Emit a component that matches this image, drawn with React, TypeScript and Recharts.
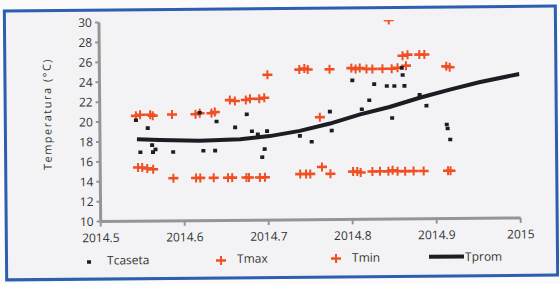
import React from 'react';
import { ComposedChart, Scatter, Line, XAxis, YAxis } from 'recharts';

const xTicks = [2014.5, 2014.6, 2014.7, 2014.8, 2014.9, 2015];
const yTicks = [10, 12, 14, 16, 18, 20, 22, 24, 26, 28, 30];

const tcaseta = [
  { x: 2014.543, y: 20.15 }, { x: 2014.557, y: 19.35 }, { x: 2014.548, y: 16.93 },
  { x: 2014.562, y: 17.64 }, { x: 2014.563, y: 16.93 }, { x: 2014.566, y: 17.2 },
  { x: 2014.587, y: 16.93 }, { x: 2014.619, y: 20.85 }, { x: 2014.623, y: 17.03 },
  { x: 2014.637, y: 17.03 }, { x: 2014.639, y: 19.95 }, { x: 2014.661, y: 19.35 },
  { x: 2014.675, y: 20.65 }, { x: 2014.681, y: 18.94 }, { x: 2014.688, y: 18.64 },
  { x: 2014.693, y: 16.33 }, { x: 2014.696, y: 17.14 }, { x: 2014.699, y: 18.94 },
  { x: 2014.738, y: 18.44 }, { x: 2014.752, y: 17.84 }, { x: 2014.774, y: 20.85 },
  { x: 2014.776, y: 18.94 }, { x: 2014.801, y: 23.97 }, { x: 2014.812, y: 21.06 },
  { x: 2014.821, y: 21.96 }, { x: 2014.827, y: 23.57 }, { x: 2014.842, y: 23.37 },
  { x: 2014.851, y: 23.37 }, { x: 2014.863, y: 23.37 }, { x: 2014.861, y: 24.47 },
  { x: 2014.860, y: 25.18 }, { x: 2014.848, y: 20.15 }, { x: 2014.881, y: 22.46 },
  { x: 2014.889, y: 21.36 }, { x: 2014.913, y: 19.45 }, { x: 2014.914, y: 19.05 },
  { x: 2014.917, y: 17.94 },
];

const tmax = [
  { x: 2014.543, y: 20.6 }, { x: 2014.548, y: 20.7 }, { x: 2014.560, y: 20.7 },
  { x: 2014.563, y: 20.6 }, { x: 2014.586, y: 20.7 }, { x: 2014.614, y: 20.7 },
  { x: 2014.619, y: 20.8 }, { x: 2014.633, y: 20.8 }, { x: 2014.637, y: 20.9 },
  { x: 2014.655, y: 22.1 }, { x: 2014.661, y: 22.0 }, { x: 2014.674, y: 22.1 },
  { x: 2014.679, y: 22.2 }, { x: 2014.690, y: 22.2 }, { x: 2014.696, y: 22.3 },
  { x: 2014.700, y: 24.6 }, { x: 2014.738, y: 25.1 }, { x: 2014.744, y: 25.2 },
  { x: 2014.748, y: 25.1 }, { x: 2014.762, y: 20.3 }, { x: 2014.774, y: 25.1 },
  { x: 2014.800, y: 25.2 }, { x: 2014.805, y: 25.1 }, { x: 2014.810, y: 25.2 },
  { x: 2014.818, y: 25.1 }, { x: 2014.825, y: 25.1 }, { x: 2014.837, y: 25.1 },
  { x: 2014.845, y: 30.0 }, { x: 2014.848, y: 25.1 }, { x: 2014.855, y: 25.2 },
  { x: 2014.861, y: 26.4 }, { x: 2014.865, y: 25.4 }, { x: 2014.867, y: 26.5 },
  { x: 2014.881, y: 26.5 }, { x: 2014.887, y: 26.5 }, { x: 2014.913, y: 25.3 },
  { x: 2014.917, y: 25.2 },
];

const tmin = [
  { x: 2014.545, y: 15.4 }, { x: 2014.550, y: 15.4 }, { x: 2014.556, y: 15.3 },
  { x: 2014.563, y: 15.2 }, { x: 2014.587, y: 14.3 }, { x: 2014.614, y: 14.3 },
  { x: 2014.619, y: 14.3 }, { x: 2014.635, y: 14.3 }, { x: 2014.652, y: 14.3 },
  { x: 2014.657, y: 14.3 }, { x: 2014.674, y: 14.3 }, { x: 2014.677, y: 14.3 },
  { x: 2014.690, y: 14.3 }, { x: 2014.696, y: 14.3 }, { x: 2014.738, y: 14.6 },
  { x: 2014.745, y: 14.6 }, { x: 2014.750, y: 14.6 }, { x: 2014.764, y: 15.3 },
  { x: 2014.774, y: 14.6 }, { x: 2014.801, y: 14.8 }, { x: 2014.806, y: 14.8 },
  { x: 2014.810, y: 14.7 }, { x: 2014.824, y: 14.8 }, { x: 2014.833, y: 14.8 },
  { x: 2014.843, y: 14.8 }, { x: 2014.848, y: 14.9 }, { x: 2014.854, y: 14.8 },
  { x: 2014.863, y: 14.8 }, { x: 2014.873, y: 14.8 }, { x: 2014.885, y: 14.8 },
  { x: 2014.914, y: 14.8 }, { x: 2014.917, y: 14.8 },
];

const tprom = [
  { x: 2014.544, y: 18.24 }, { x: 2014.571, y: 18.14 }, { x: 2014.619, y: 18.04 },
  { x: 2014.667, y: 18.14 }, { x: 2014.702, y: 18.44 }, { x: 2014.738, y: 18.94 },
  { x: 2014.774, y: 19.65 }, { x: 2014.810, y: 20.55 }, { x: 2014.845, y: 21.26 },
  { x: 2014.881, y: 22.16 }, { x: 2014.917, y: 22.96 }, { x: 2014.952, y: 23.67 },
  { x: 2015.0, y: 24.47 },
];

const RED = '#f04f24';
const DARK = '#1c1c24';
const FONT = '"Open Sans", sans-serif';

const Cross = (props: any) => {
  const { cx, cy } = props;
  if (cx == null || cy == null) return null;
  return (
    <g>
      <rect x={cx - 5} y={cy - 1.3} width={10} height={2.6} fill={RED} />
      <rect x={cx - 1} y={cy - 4.5} width={2} height={9} fill={RED} />
    </g>
  );
};

const Dot = (props: any) => {
  const { cx, cy } = props;
  if (cx == null || cy == null) return null;
  return <rect x={cx - 2} y={cy - 1.8} width={4} height={3.6} fill={DARK} />;
};

const tickStyle = { fontSize: 12, fill: '#333', fontFamily: FONT };

export default function App() {
  return (
    <div style={{ position: 'absolute', left: 0, top: 0, width: 559, height: 284, background: '#fbfbfb', overflow: 'hidden' }}>
      <div style={{ position: 'absolute', left: 0, top: 0, width: 559, height: 284, transform: 'rotate(-0.5deg)', transformOrigin: '279.5px 142px' }}>
        <div style={{ position: 'absolute', left: 4, top: 7, width: 548, height: 266, border: '3px solid #2c5fae', background: '#f3f3f5' }} />
        <div style={{ position: 'absolute', left: 0, top: 0 }}>
          <ComposedChart width={559} height={284} margin={{ top: 21, right: 39, bottom: 34, left: 60 }}>
            <XAxis
              type="number"
              dataKey="x"
              domain={[2014.5, 2015]}
              ticks={xTicks}
              interval={0}
              allowDataOverflow
              tickFormatter={(v: number) => (v === 2015 ? '2015' : v.toFixed(1))}
              tick={tickStyle}
              height={30}
              tickSize={5}
              tickMargin={7}
              axisLine={{ stroke: '#959595', strokeWidth: 3 }}
              tickLine={{ stroke: '#959595', strokeWidth: 2 }}
            />
            <YAxis
              type="number"
              dataKey="y"
              domain={[10, 30]}
              ticks={yTicks}
              interval={0}
              allowDataOverflow
              tick={tickStyle}
              width={40}
              tickSize={4}
              tickMargin={3}
              axisLine={{ stroke: '#959595', strokeWidth: 3 }}
              tickLine={{ stroke: '#959595', strokeWidth: 2 }}
            />
            <Line data={tprom} dataKey="y" stroke={DARK} strokeWidth={4} dot={false} isAnimationActive={false} />
            <Scatter data={tmax} dataKey="y" shape={Cross} isAnimationActive={false} />
            <Scatter data={tmin} dataKey="y" shape={Cross} isAnimationActive={false} />
            <Scatter data={tcaseta} dataKey="y" shape={Dot} isAnimationActive={false} />
          </ComposedChart>
        </div>
        <svg width={559} height={284} style={{ position: 'absolute', left: 0, top: 0, pointerEvents: 'none' }}>
          <text
            x={0}
            y={0}
            transform="translate(47,112) rotate(-90)"
            textAnchor="middle"
            dominantBaseline="central"
            style={{ fontSize: 11, fill: '#333', fontFamily: FONT, letterSpacing: 1.5 }}
          >
            Temperatura (°C)
          </text>
          <rect x={86} y={258.5} width={4} height={3.6} fill={DARK} />
          <text x={106} y={263} style={tickStyle as any}>Tcaseta</text>
          <Cross cx={220} cy={260} />
          <text x={236} y={262.5} style={tickStyle as any}>Tmax</text>
          <Cross cx={335} cy={259} />
          <text x={351} y={262.5} style={tickStyle as any}>Tmin</text>
          <line x1={428} y1={258} x2={463} y2={258} stroke={DARK} strokeWidth={4} />
          <text x={464} y={262.5} style={tickStyle as any}>Tprom</text>
        </svg>
      </div>
    </div>
  );
}
